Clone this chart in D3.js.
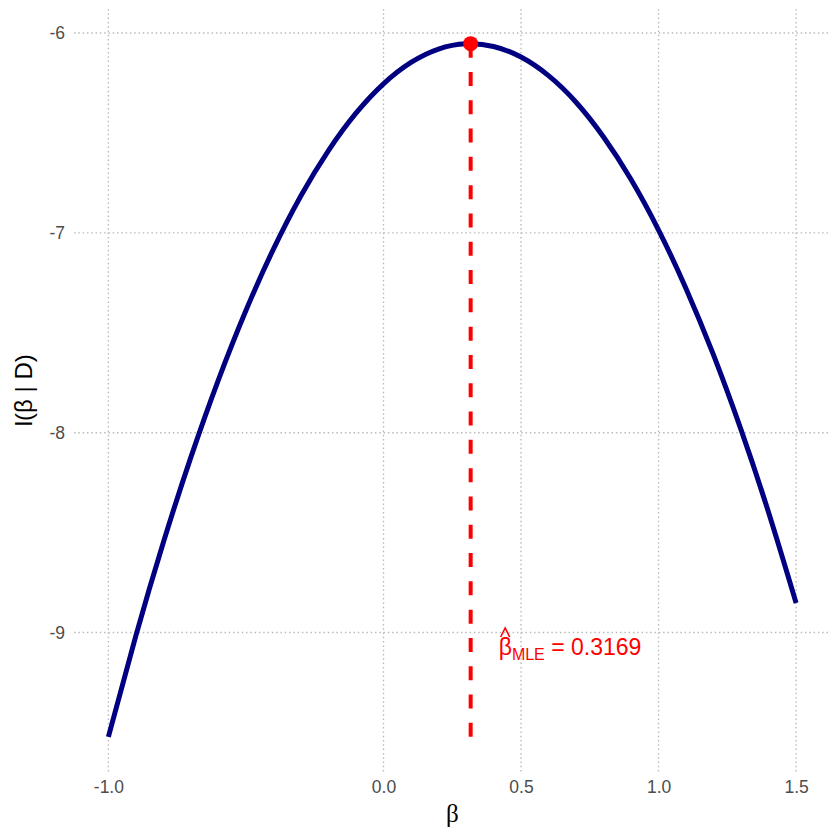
<!DOCTYPE html>
<html>
<head>
<meta charset="utf-8">
<script src="https://cdn.jsdelivr.net/npm/d3@7"></script>
<style>
  body { margin: 0; background: #fff; }
  svg { display: block; }
</style>
</head>
<body>
<svg id="chart" width="840" height="840"></svg>
<script>
// Data
const betaValues = [-1.0, -0.9, -0.8, -0.7, -0.6, -0.5, -0.4, -0.3, -0.2, -0.1, 0.0, 0.1, 0.2, 0.3, 0.4, 0.5, 0.6, 0.7, 0.8, 0.9, 1.0, 1.1, 1.2, 1.3, 1.4, 1.5];
const logLikValues = [-9.522, -9.015, -8.548, -8.122, -7.735, -7.388, -7.081, -6.814, -6.588, -6.401, -6.254, -6.147, -6.080, -6.054, -6.067, -6.120, -6.213, -6.346, -6.520, -6.733, -6.986, -7.279, -7.612, -7.986, -8.399, -8.852];
const xTicks = [-1.0, 0.0, 0.5, 1.0, 1.5];
const yTicks = [-9, -8, -7, -6];
const betaMLE = 0.3169;
const logLikMax = -6.053;
const mleLabel = "0.3169";

const svg = d3.select("#chart");
const panel = { left: 74, right: 830.5, top: 9, bottom: 771.5 };

const xMin = d3.min(betaValues), xMax = d3.max(betaValues);
const yMin = d3.min(logLikValues), yMax = logLikMax;
const xPad = (xMax - xMin) * 0.05, yPad = (yMax - yMin) * 0.05;

const x = d3.scaleLinear().domain([xMin - xPad, xMax + xPad]).range([panel.left, panel.right]);
const y = d3.scaleLinear().domain([yMin - yPad, yMax + yPad]).range([panel.bottom, panel.top]);

// Grid
const gridStyle = sel => sel.attr("stroke", "#bbbbbb").attr("stroke-width", 1.4).attr("stroke-dasharray", "1.5,2.8");
svg.append("g").selectAll("line").data(xTicks).enter().append("line")
  .attr("x1", d => x(d)).attr("x2", d => x(d))
  .attr("y1", panel.top).attr("y2", panel.bottom).call(gridStyle);
svg.append("g").selectAll("line").data(yTicks).enter().append("line")
  .attr("y1", d => y(d)).attr("y2", d => y(d))
  .attr("x1", panel.left).attr("x2", panel.right).call(gridStyle);

// Axes (labels only, like theme_minimal)
const fmtX = d => d3.format(".1f")(d).replace("−", "-");
const fmtY = d => d3.format("d")(d).replace("−", "-");
const xAxis = svg.append("g").attr("transform", `translate(0,${panel.bottom})`)
  .call(d3.axisBottom(x).tickValues(xTicks).tickFormat(fmtX).tickSize(0).tickPadding(9));
const yAxis = svg.append("g").attr("transform", `translate(${panel.left},0)`)
  .call(d3.axisLeft(y).tickValues(yTicks).tickFormat(fmtY).tickSize(0).tickPadding(9));
[xAxis, yAxis].forEach(a => {
  a.select(".domain").remove();
  a.selectAll("text").attr("fill", "#4d4d4d").attr("font-family", "Liberation Sans, Arial, sans-serif").attr("font-size", "17.5px");
});

// Curve
const pts = betaValues.map((b, i) => [b, logLikValues[i]]);
const line = d3.line().x(d => x(d[0])).y(d => y(d[1])).curve(d3.curveNatural);
svg.append("path").datum(pts).attr("d", line)
  .attr("fill", "none").attr("stroke", "#000080").attr("stroke-width", 5);

// MLE dashed line (drawn bottom-up) and point
svg.append("line")
  .attr("x1", x(betaMLE)).attr("x2", x(betaMLE))
  .attr("y1", y(yMin)).attr("y2", y(logLikMax))
  .attr("stroke", "#ff0000").attr("stroke-width", 4).attr("stroke-dasharray", "14,14.3");
svg.append("circle").attr("cx", x(betaMLE)).attr("cy", y(logLikMax)).attr("r", 7.5).attr("fill", "#ff0000");

// Annotation
const ax = x(betaMLE) + 28, ay = 655;
const ann = svg.append("text").attr("x", ax).attr("y", ay)
  .attr("fill", "#ff0000").attr("font-family", "Liberation Sans, Arial, sans-serif").attr("font-size", "23px");
ann.append("tspan").text("β");
ann.append("tspan").attr("font-size", "16px").attr("dy", 5).text("MLE");
ann.append("tspan").attr("dy", -5).text(" = " + mleLabel);
// hat over beta
svg.append("path")
  .attr("d", d3.line()([[ax + 2, ay - 18], [ax + 6.5, ay - 27], [ax + 11, ay - 18]]))
  .attr("fill", "none").attr("stroke", "#ff0000").attr("stroke-width", 1.6);

// Axis titles
svg.append("text").attr("x", (panel.left + panel.right) / 2).attr("y", 822)
  .attr("text-anchor", "middle").attr("font-family", "Liberation Serif, serif").attr("font-size", "25px")
  .attr("fill", "#000").text("β");
svg.append("text").attr("transform", `translate(32,${(panel.top + panel.bottom) / 2}) rotate(-90)`)
  .attr("text-anchor", "middle").attr("font-family", "Liberation Sans, Arial, sans-serif").attr("font-size", "24px")
  .attr("fill", "#000").text("l(β | D)");
</script>
</body>
</html>
